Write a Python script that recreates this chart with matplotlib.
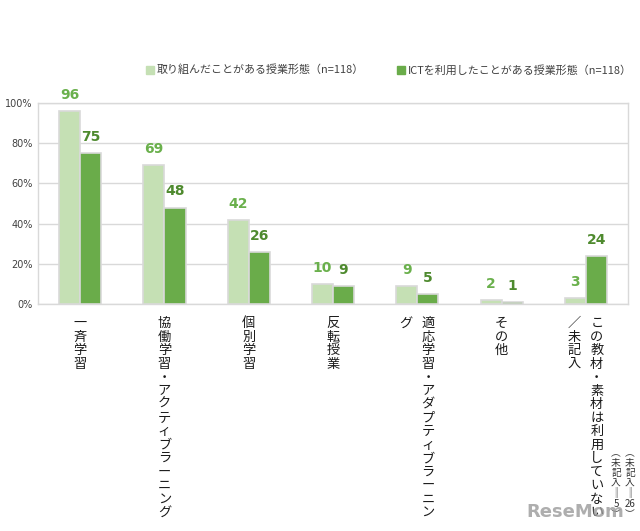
import matplotlib
matplotlib.use("Agg")
import matplotlib.pyplot as plt
from matplotlib.patches import Rectangle
import numpy as np

plt.rcParams['font.family'] = ['Noto Sans CJK JP', 'DejaVu Sans']

categories = ["一斉学習", "協働学習・アクティブラーニング", "個別学習", "反転授業",
              "適応学習・アダプティブラーニング", "その他", "この教材・素材は利用していない／未記入"]
# label columns (vertical writing: first column on the right)
label_columns = [["一斉学習"], ["協働学習・アクティブラーニング"], ["個別学習"], ["反転授業"],
                 ["適応学習・アダプティブラーニン", "グ"], ["その他"],
                 ["この教材・素材は利用していない", "／未記入"]]
series_names = ["取り組んだことがある授業形態（n=118）", "ICTを利用したことがある授業形態（n=118）"]
tried = [96, 69, 42, 10, 9, 2, 3]
ict = [75, 48, 26, 9, 5, 1, 24]
yticks = [0, 20, 40, 60, 80, 100]
notes = [["︵", "未", "記", "入", "‖", "26", "︶"], ["︵", "未", "記", "入", "‖", "5", "︶"]]

light = "#c5e0b4"
dark = "#6aac4a"
light_txt = "#6ab04c"
dark_txt = "#4e8a2e"

fig = plt.figure(figsize=(6.4, 5.31), dpi=100)
ax = fig.add_axes([38/640, 1-304/531, (628-38)/640, 201/531])

x = np.arange(len(categories))
w = 0.25
ax.bar(x - w/2, tried, width=w, color=light, edgecolor="#d9d9d9", linewidth=1.2, zorder=3)
ax.bar(x + w/2, ict, width=w, color=dark, edgecolor="#d9d9d9", linewidth=1.2, zorder=3)

for xi, v in zip(x, tried):
    ax.text(xi - w/2, v + 4.5, str(v), ha="center", va="bottom", fontsize=10,
            fontweight="bold", color=light_txt, family="DejaVu Sans")
for xi, v in zip(x, ict):
    ax.text(xi + w/2, v + 4.5, str(v), ha="center", va="bottom", fontsize=10,
            fontweight="bold", color=dark_txt, family="DejaVu Sans")

ax.set_xlim(-0.5, len(categories) - 0.5)
ax.set_ylim(0, 100)
ax.set_yticks(yticks)
ax.set_yticklabels([f"{t}%" for t in yticks], fontsize=7, color="#404040", family="DejaVu Sans")
ax.set_xticks([])
ax.tick_params(axis="y", length=0, pad=4)
ax.grid(axis="y", color="#d9d9d9", linewidth=1, zorder=0)
for s in ax.spines.values():
    s.set_color("#d9d9d9")
    s.set_linewidth(1)

# vertical category labels
trans = ax.get_xaxis_transform()
for xi, cols in zip(x, label_columns):
    n = len(cols)
    if n == 1:
        offs = [0.0]
    else:
        offs = [0.13, -0.14]
    for col, off in zip(cols, offs):
        ax.text(xi + off, -0.065, "\n".join(col), transform=trans, ha="center", va="top",
                fontsize=9.5, linespacing=1.05, color="#1a1a1a")

# notes at right
for i, col in enumerate(notes):
    fig.text(630/640 - i*14/640, 1-448/531, "\n".join(col), ha="center", va="top",
             fontsize=7, linespacing=1.0, color="#333333")

# legend
ly = 1 - 70/531
fig.patches.append(Rectangle((146/640, ly - 4/531), 8/640, 8/531, transform=fig.transFigure,
                             color=light, figure=fig))
fig.text(157/640, ly, series_names[0], ha="left", va="center", fontsize=7.9, color="#404040")
fig.patches.append(Rectangle((397/640, ly - 4/531), 8/640, 8/531, transform=fig.transFigure,
                             color=dark, figure=fig))
fig.text(408/640, ly, series_names[1], ha="left", va="center", fontsize=7.9, color="#404040")

fig.text(526/640, 1-512/531, "ReseMom", ha="left", va="center", fontsize=13,
         fontweight="bold", color="#9a9a9a", alpha=0.8, family="DejaVu Sans")

fig.savefig("out.png", dpi=100, facecolor="white")
